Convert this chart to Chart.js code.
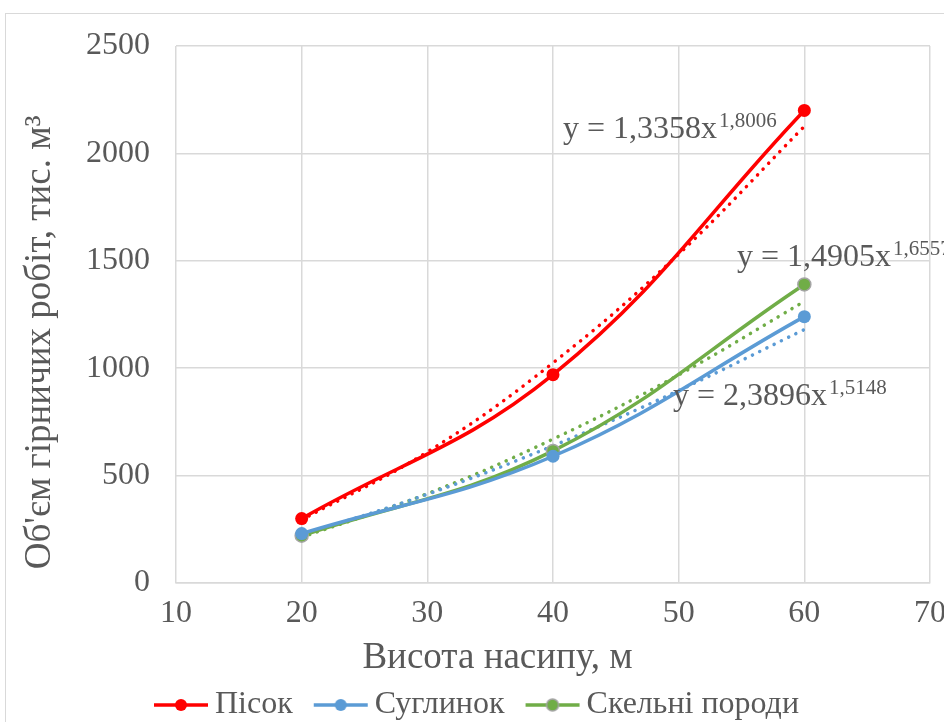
<!DOCTYPE html>
<html>
<head>
<meta charset="utf-8">
<script src="https://cdn.jsdelivr.net/npm/chart.js@4.4.1/dist/chart.umd.min.js"></script>
<style>
  html, body { margin: 0; padding: 0; background: #fff; overflow: hidden; }
  #wrap { position: relative; width: 944px; height: 722px; overflow: hidden; }
  #frame { position: absolute; left: 5px; top: 13px; width: 1000px; height: 800px; border: 1.5px solid #d9d9d9; }
  #chart { position: absolute; left: 0; top: 0; }
</style>
</head>
<body>
<div id="wrap">
  <div id="frame"></div>
  <canvas id="chart" width="960" height="731"></canvas>
</div>
<script>
// embankment height, m
const heights = [20, 40, 60];
// volume of mining works, thousand m3
const sand = [300, 970, 2200];
const loam = [230, 590, 1240];
const rock = [220, 615, 1390];

// power trendlines
const trendHeights = [20, 30, 40, 50, 60];
const sandTrend = [294, 610, 1025, 1531, 2126];
const loamTrend = [223, 413, 639, 896, 1180];
const rockTrend = [213, 416, 670, 969, 1311];

const seriesNames = ['Пісок', 'Суглинок', 'Скельні породи'];
const equations = [
  ['y = 1,3358x', '1,8006'],
  ['y = 1,4905x', '1,6557'],
  ['y = 2,3896x', '1,5148'],
];
const xTicks = [10, 20, 30, 40, 50, 60, 70];
const yTicks = [0, 500, 1000, 1500, 2000, 2500];

const colors = ['#ff0000', '#5b9bd5', '#70ad47'];
const textColor = '#595959';
const serif = "'Liberation Serif', 'Times New Roman', serif";
const nbsp = n => '\u00a0'.repeat(n);

const toPoints = (xs, ys) => xs.map((x, i) => ({ x: x, y: ys[i] }));

function legendIcon(color, ring) {
  const c = document.createElement('canvas');
  c.width = 56;
  c.height = 16;
  const g = c.getContext('2d');
  g.strokeStyle = color;
  g.lineWidth = 3.5;
  g.beginPath();
  g.moveTo(1, 8);
  g.lineTo(55, 8);
  g.stroke();
  g.fillStyle = color;
  g.beginPath();
  g.arc(28, 8, 6, 0, Math.PI * 2);
  g.fill();
  if (ring) {
    g.strokeStyle = ring;
    g.lineWidth = 1.5;
    g.stroke();
  }
  return c;
}
const icons = [legendIcon(colors[0]), legendIcon(colors[1]), legendIcon(colors[2], '#a5a5a5')];

function series(label, xs, ys, i) {
  return {
    label: label,
    data: toPoints(xs, ys),
    borderColor: colors[i],
    backgroundColor: colors[i],
    borderWidth: 3.5,
    tension: 0.4,
    pointRadius: 6.5,
    pointBackgroundColor: colors[i],
    pointBorderColor: i === 2 ? '#a5a5a5' : colors[i],
    pointBorderWidth: i === 2 ? 1.5 : 0,
    order: 1,
  };
}

function trend(xs, ys, i) {
  return {
    label: 'trend' + i,
    data: toPoints(xs, ys),
    borderColor: colors[i],
    borderWidth: 3.5,
    borderDash: [0.1, 8],
    borderCapStyle: 'round',
    tension: 0.4,
    pointRadius: 0,
    order: 2,
  };
}

// equation labels next to the trendlines
const equationLabels = {
  id: 'equationLabels',
  afterDatasetsDraw(chart) {
    const ctx = chart.ctx;
    const spots = [[563, 138], [737, 266], [673, 405]];
    ctx.save();
    ctx.fillStyle = textColor;
    ctx.textBaseline = 'alphabetic';
    equations.forEach((eq, i) => {
      const [x, y] = spots[i];
      ctx.font = '32px ' + serif;
      ctx.fillText(eq[0], x, y);
      const w = ctx.measureText(eq[0]).width;
      ctx.font = '21px ' + serif;
      ctx.fillText(eq[1], x + w + 2, y - 11);
    });
    ctx.restore();
  }
};

new Chart(document.getElementById('chart'), {
  type: 'line',
  data: {
    datasets: [
      trend(trendHeights, sandTrend, 0),
      trend(trendHeights, loamTrend, 1),
      trend(trendHeights, rockTrend, 2),
      series(seriesNames[0], heights, sand, 0),
      series(seriesNames[1], heights, loam, 1),
      series(seriesNames[2], heights, rock, 2),
    ],
  },
  options: {
    responsive: false,
    animation: false,
    devicePixelRatio: 1,
    layout: { padding: { top: 46, right: 30, bottom: 0, left: 32 } },
    plugins: {
      tooltip: { enabled: false },
      legend: {
        position: 'bottom',
        labels: {
          usePointStyle: true,
          pointStyleWidth: 36,
          padding: 30,
          color: textColor,
          font: { family: serif, size: 32 },
          generateLabels: () => seriesNames.map((name, i) => ({
            text: name,
            pointStyle: icons[i],
            fillStyle: colors[i],
            strokeStyle: colors[i],
            lineWidth: 0,
            fontColor: textColor,
            hidden: false,
            datasetIndex: i + 3,
          })),
        },
      },
    },
    scales: {
      x: {
        type: 'linear',
        min: 10,
        max: 70,
        afterBuildTicks: s => { s.ticks = xTicks.map(v => ({ value: v })); },
        afterFit: s => { s.height = 76; },
        grid: { color: '#d9d9d9', lineWidth: 1.5, drawTicks: false },
        border: { color: '#d9d9d9', width: 1.5 },
        ticks: { color: textColor, font: { family: serif, size: 32 }, padding: 11, callback: v => String(v) },
        title: {
          display: true,
          text: 'Висота насипу, м' + nbsp(12),
          color: textColor,
          font: { family: serif, size: 37 },
          padding: { top: 0, bottom: -21 },
        },
      },
      y: {
        min: 0,
        max: 2500,
        afterBuildTicks: s => { s.ticks = yTicks.map(v => ({ value: v })); },
        afterFit: s => { s.width = 144; },
        grid: { color: '#d9d9d9', lineWidth: 1.5, drawTicks: false },
        border: { display: false },
        ticks: { color: textColor, font: { family: serif, size: 32 }, padding: 26, callback: v => String(v) },
        title: {
          display: true,
          text: "Об'єм гірничих робіт, тис. м³" + nbsp(6),
          color: textColor,
          font: { family: serif, size: 37 },
          padding: { top: -14, bottom: 0 },
        },
      },
    },
  },
  plugins: [equationLabels],
});
</script>
</body>
</html>
